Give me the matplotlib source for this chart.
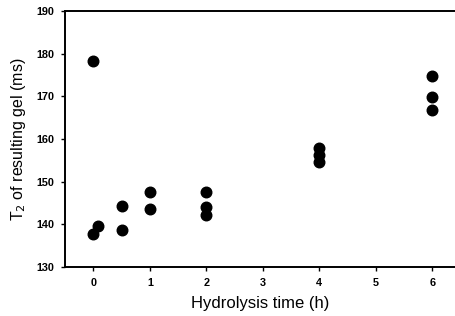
import matplotlib
matplotlib.use('Agg')
import matplotlib.pyplot as plt

# hydrolysis time (h) and T2 of the resulting gel (ms)
time_h = [0, 0, 0.08, 0.5, 0.5, 1, 1, 2, 2, 2, 4, 4, 4, 6, 6, 6]
t2_ms = [178.3, 137.8, 139.7, 144.2, 138.7, 147.7, 143.5, 147.7, 144.0, 142.3,
         158.0, 156.3, 154.6, 174.7, 169.8, 166.9]

plt.rcParams['font.family'] = ['Liberation Sans', 'DejaVu Sans']

fig = plt.figure(figsize=(4.55, 3.16), dpi=100)
ax = fig.add_axes([0.143, 0.155, 0.857, 0.810])

ax.plot(time_h, t2_ms, 'o', color='black', markersize=7.6, clip_on=False)

ax.set_xlim(-0.5, 6.4)
ax.set_ylim(130, 190)
ax.set_xticks(range(0, 7))
ax.set_yticks(range(130, 191, 10))
ax.tick_params(axis='both', direction='out', length=3, width=1, labelsize=7.8)
ax.tick_params(axis='x', pad=5)
ax.tick_params(axis='y', pad=5)
for lab in ax.get_xticklabels() + ax.get_yticklabels():
    lab.set_fontweight('bold')

for side in ['left', 'bottom', 'top']:
    ax.spines[side].set_linewidth(1.4)
ax.spines['right'].set_visible(False)

ax.set_xlabel('Hydrolysis time (h)', fontsize=12, labelpad=6)
ax.set_ylabel('T$_2$ of resulting gel (ms)', fontsize=11.5, labelpad=6)

fig.savefig('out.png', dpi=100)
